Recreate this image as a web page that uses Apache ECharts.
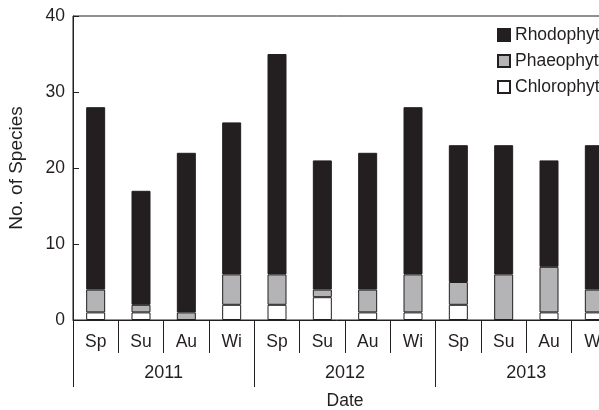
<!DOCTYPE html>
<html>
<head>
<meta charset="utf-8">
<title>No. of Species</title>
<script src="https://cdn.jsdelivr.net/npm/echarts/dist/echarts.min.js"></script>
<style>
html, body { margin: 0; padding: 0; background: #fff; }
#main { width: 599px; height: 410px; }
</style>
</head>
<body>
<div id="main"></div>
<script>
// 季节（横轴）
var seasons = ['Sp', 'Su', 'Au', 'Wi', 'Sp', 'Su', 'Au', 'Wi', 'Sp', 'Su', 'Au', 'Wi'];
// 年份分组
var years = ['2011', '2012', '2013'];
// 各门类物种数
var chlorophyta = [1, 1, 0, 2, 2, 3, 1, 1, 2, 0, 1, 1];
var phaeophyta = [3, 1, 1, 4, 4, 1, 3, 5, 3, 6, 6, 3];
var rhodophyta = [24, 15, 21, 20, 29, 17, 18, 22, 18, 17, 14, 19];

var ink = '#231f20';
var font = 'Liberation Sans, Arial, sans-serif';
var fs = 17.5;

/**
 * 构建图表
 */
function buildChart(){
	var myChart = echarts.init(document.getElementById('main'));

	var option = {
		animation: false,
		textStyle: { fontFamily: font, color: ink },
		legend: {
			orient: 'vertical',
			left: 492,
			top: 21,
			itemWidth: 12,
			itemHeight: 12,
			itemGap: 8,
			icon: 'rect',
			data: ['Rhodophyta', 'Phaeophyta', 'Chlorophyta'],
			textStyle: { fontSize: fs, color: ink, fontFamily: font }
		},
		grid: {
			left: 73,
			top: 16,
			width: 544, //右侧被裁掉
			height: 304,
			containLabel: false,
			outerBoundsMode: 'none',
			show: true,
			borderColor: ink,
			borderWidth: 1
		},
		xAxis: [{
			type: 'category',
			position: 'bottom',
			data: seasons,
			axisLine: { lineStyle: { color: ink, width: 1 } },
			axisTick: { show: true, length: 33, lineStyle: { color: ink } },
			axisLabel: { margin: 13, fontSize: fs, color: ink, fontFamily: font },
			name: 'Date',
			nameLocation: 'middle',
			nameGap: 72,
			nameTextStyle: { fontSize: fs, color: ink, fontFamily: font }
		}, {
			type: 'category',
			position: 'bottom',
			data: years,
			axisLine: { show: false },
			axisTick: { show: true, length: 67, lineStyle: { color: ink } },
			axisLabel: { margin: 44, fontSize: 18, color: ink, fontFamily: font }
		}],
		yAxis: {
			type: 'value',
			min: 0,
			max: 40,
			interval: 10,
			splitLine: { show: false },
			axisLine: { show: true, lineStyle: { color: ink } },
			axisTick: { show: true, inside: true, length: 6, lineStyle: { color: ink } },
			axisLabel: { margin: 8, fontSize: fs, color: ink, fontFamily: font },
			name: 'No. of Species',
			nameLocation: 'middle',
			nameGap: 47,
			nameTextStyle: { fontSize: 19, color: ink, fontFamily: font }
		},
		series: [{
			name: 'Chlorophyta',
			type: 'bar',
			stack: 'total',
			barWidth: 19,
			data: chlorophyta,
			itemStyle: { color: '#ffffff', borderColor: ink, borderWidth: 1 }
		}, {
			name: 'Phaeophyta',
			type: 'bar',
			stack: 'total',
			barWidth: 19,
			data: phaeophyta,
			itemStyle: { color: '#b4b4b6', borderColor: ink, borderWidth: 1 }
		}, {
			name: 'Rhodophyta',
			type: 'bar',
			stack: 'total',
			barWidth: 19,
			data: rhodophyta,
			itemStyle: { color: ink, borderColor: ink, borderWidth: 1 }
		}]
	};

	myChart.setOption(option);
}

buildChart();
</script>
</body>
</html>
